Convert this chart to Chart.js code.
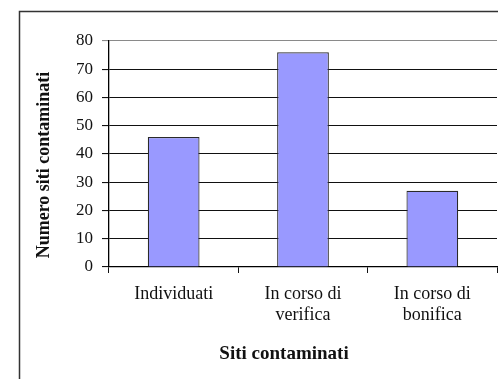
<!DOCTYPE html>
<html>
<head>
<meta charset="utf-8">
<script src="https://cdn.jsdelivr.net/npm/chart.js@4/dist/chart.umd.min.js"></script>
<style>
	html, body { margin: 0; padding: 0; background: #fff; }
	#wrap { width: 498px; height: 379px; }
</style>
</head>
<body>
<div id="wrap"><canvas id="barChart" width="498" height="379"></canvas></div>
<script>
// Siti contaminati per stato
const categories = ["Individuati", ["In corso di", "verifica"], ["In corso di", "bonifica"]];
const sitiValues = [46, 76, 27];
const yTicks = [0, 10, 20, 30, 40, 50, 60, 70, 80];

const xTitle = "Siti contaminati";
const yTitle = "Numero siti contaminati";

const serif = "'Liberation Serif', 'Times New Roman', serif";

// white page, outer frame and axis titles
const frameAndTitles = {
	id: "frameAndTitles",
	beforeDraw(chart) {
		const ctx = chart.ctx;
		ctx.save();
		ctx.fillStyle = "#fff";
		ctx.fillRect(0, 0, chart.width, chart.height);
		ctx.strokeStyle = "#333";
		ctx.lineWidth = 1.5;
		ctx.beginPath();
		ctx.moveTo(19.5, chart.height);
		ctx.lineTo(19.5, 11.5);
		ctx.lineTo(chart.width, 11.5);
		ctx.stroke();
		ctx.restore();
	},
	afterDraw(chart) {
		const ctx = chart.ctx;
		ctx.save();
		ctx.fillStyle = "#111";
		ctx.textAlign = "center";
		ctx.textBaseline = "middle";
		ctx.font = "bold 19px " + serif;
		ctx.fillText(xTitle, 284, 354);
		ctx.font = "bold 18px " + serif;
		ctx.translate(44, 165);
		ctx.rotate(-Math.PI / 2);
		ctx.fillText(yTitle, 0, 0);
		ctx.restore();
	},
};

const ctx = document.getElementById("barChart").getContext("2d");
new Chart(ctx, {
	type: "bar",
	data: {
		labels: categories,
		datasets: [
			{
				label: "Siti",
				data: sitiValues,
				backgroundColor: "#9999FF",
				borderColor: "#2a2a2a",
				borderWidth: 1.2,
				barPercentage: 0.4,
				categoryPercentage: 1,
			},
		],
	},
	options: {
		responsive: false,
		animation: false,
		layout: { padding: { top: 41, right: 1, left: 0, bottom: 0 } },
		plugins: {
			legend: { display: false },
			tooltip: { enabled: false },
		},
		scales: {
			x: {
				offset: true,
				grid: {
					offset: true,
					drawOnChartArea: false,
					color: "#111",
					tickLength: 6,
				},
				border: { display: true, color: "#000", width: 1.3 },
				ticks: {
					color: "#111",
					padding: 10,
					maxRotation: 0,
					font: { family: serif, size: 18, lineHeight: 1.2 },
				},
				afterFit(scale) {
					scale.height = 112;
				},
			},
			y: {
				min: 0,
				max: 80,
				afterBuildTicks(scale) {
					scale.ticks = yTicks.map((v) => ({ value: v }));
				},
				grid: {
					// the top line is the plot area's grey border
					color: (c) => (c.tick && c.tick.value === 80 ? "#8a8a8a" : "#111"),
					lineWidth: 1.1,
					tickLength: 7,
				},
				border: { display: true, color: "#000", width: 1.3 },
				ticks: {
					color: "#111",
					padding: 9,
					font: { family: serif, size: 17 },
				},
				afterFit(scale) {
					scale.width = 109;
				},
			},
		},
	},
	plugins: [frameAndTitles],
});
</script>
</body>
</html>
